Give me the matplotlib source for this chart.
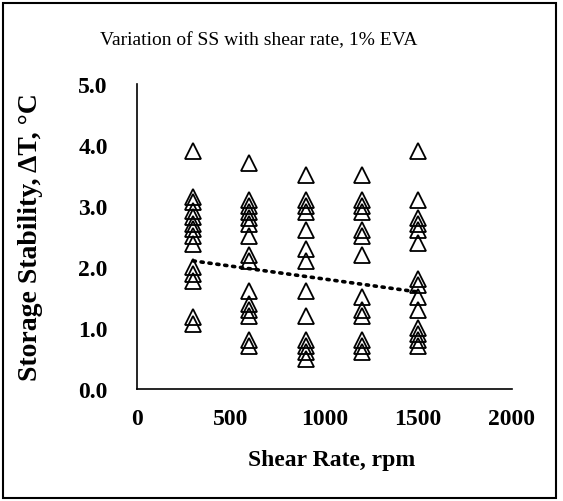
import numpy as np
import matplotlib.pyplot as plt
from matplotlib.patches import Rectangle

# --- DATA: storage stability readings at each shear rate ---
rate_300 = [3.9, 3.15, 3.07, 2.92, 2.82, 2.7, 2.62, 2.51, 2.38, 2.0, 1.89, 1.77, 1.18, 1.07]
rate_600 = [3.7, 3.1, 3.0, 2.9, 2.8, 2.7, 2.5, 2.2, 2.1, 1.6, 1.4, 1.3, 1.2, 0.8, 0.7]
rate_900 = [3.5, 3.1, 3.0, 2.9, 2.6, 2.3, 2.1, 1.6, 1.2, 0.8, 0.7, 0.6, 0.5]
rate_1200 = [3.5, 3.1, 3.0, 2.9, 2.6, 2.5, 2.2, 1.5, 1.3, 1.2, 0.8, 0.7, 0.6]
rate_1500 = [3.9, 3.1, 2.8, 2.7, 2.6, 2.4, 1.8, 1.7, 1.5, 1.3, 1.0, 0.9, 0.8, 0.7]

shear_rates = [300, 600, 900, 1200, 1500]
readings = [rate_300, rate_600, rate_900, rate_1200, rate_1500]

# linear trendline endpoints
trend_x = [300, 1500]
trend_y = [2.10, 1.59]

x = np.concatenate([[r] * len(v) for r, v in zip(shear_rates, readings)])
y = np.concatenate(readings)

plt.rcParams['font.family'] = ['Liberation Serif', 'DejaVu Serif']

fig = plt.figure(figsize=(5.63, 5.02), dpi=100)
ax = fig.add_axes([0.2433, 0.2231, 0.666, 0.6076])

ax.plot(x, y, linestyle='none', marker='^', markersize=11,
        markerfacecolor='none', markeredgecolor='black', markeredgewidth=1.3)

ax.plot(trend_x, trend_y, color='black', linestyle=(0, (0.6, 1.6)),
        linewidth=2.6, dash_capstyle='round')

ax.set_xlim(0, 2000)
ax.set_ylim(0, 5)
ax.set_xticks([0, 500, 1000, 1500, 2000])
ax.set_yticks([0, 1, 2, 3, 4, 5])
ax.set_yticklabels([f"{v:.1f}" for v in range(6)])
ax.tick_params(length=0, labelsize=17)
ax.tick_params(axis='x', pad=14)
ax.tick_params(axis='y', pad=21)
for lab in ax.get_xticklabels() + ax.get_yticklabels():
    lab.set_fontweight('bold')

for side in ['top', 'right']:
    ax.spines[side].set_visible(False)
for side in ['left', 'bottom']:
    ax.spines[side].set_color('black')
    ax.spines[side].set_linewidth(1.2)

ax.set_xlabel("Shear Rate, rpm", fontsize=17, fontweight='bold', va='center')
ax.set_ylabel("Storage Stability, ΔT, °C", fontsize=20, fontweight='bold', va='center')
ax.xaxis.set_label_coords(0.52, -0.23)
ax.yaxis.set_label_coords(-0.285, 0.5)

fig.text(0.459, 0.92, "Variation of SS with shear rate, 1% EVA", ha='center',
         va='center', fontsize=14)

# outer chart border
fig.patches.append(Rectangle((0.006, 0.006), 0.982, 0.986, transform=fig.transFigure,
                             fill=False, edgecolor='black', linewidth=1.5))

fig.savefig("out.png", dpi=100)
